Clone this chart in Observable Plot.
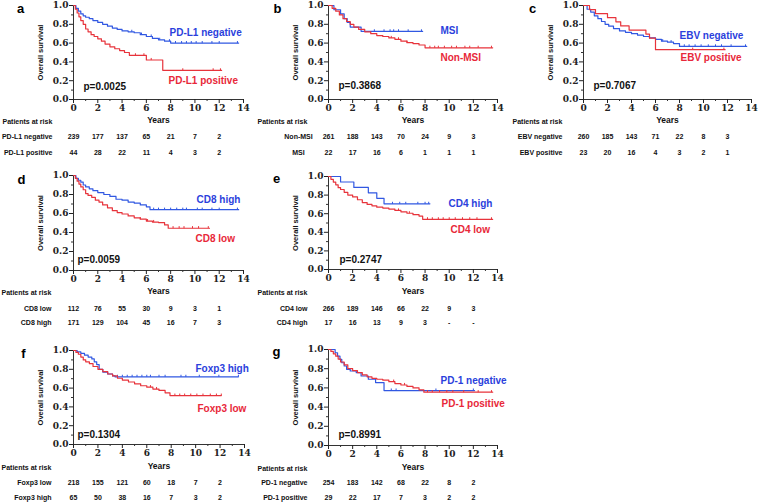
<!DOCTYPE html>
<html><head><meta charset="utf-8">
<script src="https://cdn.jsdelivr.net/npm/d3@7"></script>
<script src="https://cdn.jsdelivr.net/npm/@observablehq/plot@0.6"></script>
<style>
html,body{margin:0;padding:0;background:#fff;}
#fig{position:relative;width:758px;height:502px;overflow:hidden;background:#fff;}
#fig svg{position:absolute;overflow:visible;}
</style></head><body><div id="fig"></div>
<script>
// ---------- shared ticks ----------
const riskTimes = [0, 2, 4, 6, 8, 10, 12];
const xMajorTicks = [0, 2, 4, 6, 8, 10, 12, 14];
const xMinorTicks = [1, 3, 5, 7, 9, 11, 13];
const yMajorTicks = [0, 0.2, 0.4, 0.6, 0.8, 1.0];
const yMinorTicks = [0.1, 0.3, 0.5, 0.7, 0.9];

// ---------- panel a ----------
const aLabels = ["PD-L1 negative", "PD-L1 positive"];
const aP = "p=0.0025";
const aNegT = [0, 0.2, 0.4, 0.6, 0.8, 1.0, 1.3, 1.6, 2.0, 2.4, 2.8, 3.2, 3.6, 4.0, 4.5, 5.0, 5.5, 6.0, 6.5, 7.0, 7.5, 8.0, 13.6];
const aNegS = [1, 0.97, 0.94, 0.91, 0.89, 0.875, 0.86, 0.84, 0.82, 0.80, 0.78, 0.76, 0.745, 0.73, 0.72, 0.71, 0.69, 0.67, 0.65, 0.635, 0.62, 0.60, 0.60];
const aNegC = [4.8, 5.6, 6.4, 7.1, 7.9, 8.4, 8.9, 9.3, 9.7, 10.1, 10.6, 11.4, 12.0, 13.5];
const aPosT = [0, 0.15, 0.3, 0.45, 0.6, 0.8, 1.0, 1.2, 1.45, 1.7, 2.0, 2.3, 2.6, 3.0, 3.4, 3.8, 4.2, 4.6, 6.0, 7.35, 12.2];
const aPosS = [1, 0.96, 0.92, 0.88, 0.84, 0.80, 0.75, 0.72, 0.69, 0.67, 0.645, 0.62, 0.59, 0.56, 0.54, 0.52, 0.50, 0.47, 0.42, 0.31, 0.31];
const aPosC = [5.1, 5.8, 6.4, 9.0, 11.5, 12.1];
const aNegRisk = ["239", "177", "137", "65", "21", "7", "2"];
const aPosRisk = ["44", "28", "22", "11", "4", "3", "2"];

// ---------- panel b ----------
const bLabels = ["Non-MSI", "MSI"];
const bP = "p=0.3868";
const bNonT = [0, 0.3, 0.6, 0.9, 1.2, 1.5, 1.8, 2.1, 2.5, 3.0, 3.5, 4.0, 4.5, 5.0, 5.5, 6.0, 6.5, 7.0, 7.5, 8.0, 13.6];
const bNonS = [1, 0.97, 0.94, 0.90, 0.86, 0.83, 0.80, 0.77, 0.745, 0.72, 0.70, 0.68, 0.67, 0.655, 0.64, 0.62, 0.605, 0.595, 0.58, 0.55, 0.55];
const bNonC = [5.2, 5.8, 6.5, 8.4, 8.8, 9.1, 9.6, 10.2, 10.6, 11.3, 11.7, 12.4, 13.5];
const bMsiT = [0, 0.45, 1.0, 1.3, 1.55, 1.8, 2.7, 7.8];
const bMsiS = [1, 0.955, 0.91, 0.86, 0.82, 0.77, 0.725, 0.725];
const bMsiC = [3.8, 4.6, 5.1, 5.4, 5.8, 6.6, 7.7];
const bNonRisk = ["261", "188", "143", "70", "24", "9", "3"];
const bMsiRisk = ["22", "17", "16", "6", "1", "1", "1"];

// ---------- panel c ----------
const cLabels = ["EBV negative", "EBV positive"];
const cP = "p=0.7067";
const cNegT = [0, 0.3, 0.6, 0.9, 1.2, 1.5, 1.8, 2.1, 2.5, 3.0, 3.5, 4.0, 4.5, 5.0, 5.5, 6.0, 6.5, 7.0, 7.5, 8.0, 13.6];
const cNegS = [1, 0.96, 0.93, 0.89, 0.86, 0.83, 0.80, 0.78, 0.755, 0.73, 0.715, 0.70, 0.685, 0.67, 0.655, 0.64, 0.62, 0.61, 0.595, 0.565, 0.565];
const cNegC = [4.5, 5.5, 6.6, 7.3, 8.4, 8.8, 9.3, 9.8, 10.4, 11.0, 11.5, 12.3, 13.5];
const cPosT = [0, 0.5, 1.0, 2.0, 2.7, 3.1, 3.8, 5.2, 5.5, 6.0, 11.8];
const cPosS = [1, 0.957, 0.913, 0.87, 0.826, 0.783, 0.739, 0.696, 0.652, 0.53, 0.53];
const cPosC = [9.1, 11.7];
const cNegRisk = ["260", "185", "143", "71", "22", "8", "3"];
const cPosRisk = ["23", "20", "16", "4", "3", "2", "1"];

// ---------- panel d ----------
const dLabels = ["CD8 low", "CD8 high"];
const dP = "p=0.0059";
const dHighT = [0, 0.2, 0.4, 0.6, 0.8, 1.0, 1.3, 1.6, 2.0, 2.5, 3.0, 3.5, 4.0, 4.5, 5.0, 5.5, 6.0, 6.3, 13.6];
const dHighS = [1, 0.97, 0.95, 0.93, 0.90, 0.88, 0.86, 0.84, 0.82, 0.80, 0.78, 0.75, 0.74, 0.72, 0.71, 0.69, 0.67, 0.64, 0.64];
const dHighC = [6.6, 7.0, 7.5, 8.0, 8.5, 9.0, 9.3, 10.2, 10.6, 11.4, 12.0, 13.5];
const dLowT = [0, 0.15, 0.3, 0.45, 0.6, 0.8, 1.0, 1.2, 1.5, 1.8, 2.1, 2.4, 2.8, 3.2, 3.6, 4.0, 4.5, 5.0, 5.5, 6.0, 6.5, 7.0, 7.5, 7.8, 11.2];
const dLowS = [1, 0.97, 0.94, 0.91, 0.88, 0.85, 0.81, 0.79, 0.77, 0.74, 0.72, 0.69, 0.66, 0.63, 0.61, 0.595, 0.575, 0.555, 0.54, 0.52, 0.51, 0.505, 0.48, 0.445, 0.445];
const dLowC = [5.5, 6.1, 6.6, 8.2, 8.7, 9.1, 9.8, 10.3, 11.1];
const dLowRisk = ["112", "76", "55", "30", "9", "3", "1"];
const dHighRisk = ["171", "129", "104", "45", "16", "7", "3"];

// ---------- panel e ----------
const eLabels = ["CD4 low", "CD4 high"];
const eP = "p=0.2747";
const eHighT = [0, 1.0, 2.1, 3.3, 4.0, 4.6, 8.4];
const eHighS = [1, 0.941, 0.882, 0.824, 0.765, 0.706, 0.706];
const eHighC = [5.3, 5.9, 6.4, 7.4, 8.0, 8.3];
const eLowT = [0, 0.2, 0.4, 0.6, 0.8, 1.0, 1.3, 1.6, 2.0, 2.4, 2.8, 3.2, 3.6, 4.0, 4.5, 5.0, 5.5, 6.0, 6.5, 7.0, 7.5, 7.8, 13.6];
const eLowS = [1, 0.97, 0.94, 0.91, 0.88, 0.86, 0.83, 0.80, 0.78, 0.75, 0.72, 0.70, 0.685, 0.67, 0.66, 0.65, 0.635, 0.62, 0.605, 0.59, 0.575, 0.54, 0.54];
const eLowC = [5.8, 6.7, 8.2, 8.6, 9.1, 9.5, 10.0, 10.5, 11.1, 11.7, 12.3, 13.5];
const eLowRisk = ["266", "189", "146", "66", "22", "9", "3"];
const eHighRisk = ["17", "16", "13", "9", "3", "-", "-"];

// ---------- panel f ----------
const fLabels = ["Foxp3 low", "Foxp3 high"];
const fP = "p=0.1304";
const fHighT = [0, 0.3, 0.6, 0.9, 1.2, 1.5, 1.7, 1.9, 2.1, 2.4, 2.8, 3.2, 3.4, 13.5];
const fHighS = [1, 0.985, 0.97, 0.95, 0.93, 0.91, 0.88, 0.85, 0.80, 0.77, 0.75, 0.73, 0.72, 0.72];
const fHighC = [3.6, 4.0, 4.4, 4.8, 5.2, 5.6, 6.0, 6.3, 7.0, 7.5, 8.8, 9.2, 10.3, 11.9, 13.5];
const fLowT = [0, 0.2, 0.4, 0.6, 0.8, 1.0, 1.3, 1.6, 2.0, 2.4, 2.8, 3.2, 3.6, 4.0, 4.5, 5.0, 5.5, 6.0, 6.5, 7.0, 7.5, 7.9, 12.1];
const fLowS = [1, 0.98, 0.96, 0.93, 0.90, 0.88, 0.86, 0.83, 0.80, 0.775, 0.75, 0.73, 0.705, 0.685, 0.665, 0.645, 0.625, 0.61, 0.59, 0.575, 0.55, 0.52, 0.52];
const fLowC = [6.3, 6.8, 8.3, 8.7, 9.1, 9.6, 10.1, 10.6, 11.2, 11.7, 12.1];
const fLowRisk = ["218", "155", "121", "60", "18", "7", "2"];
const fHighRisk = ["65", "50", "38", "16", "7", "3", "2"];

// ---------- panel g ----------
const gLabels = ["PD-1 negative", "PD-1 positive"];
const gP = "p=0.8991";
const gNegT = [0, 0.55, 0.75, 0.95, 1.1, 1.3, 1.5, 1.8, 2.3, 2.7, 3.3, 3.9, 4.6, 12.1];
const gNegS = [1, 0.966, 0.931, 0.897, 0.862, 0.828, 0.793, 0.776, 0.759, 0.724, 0.69, 0.655, 0.572, 0.572];
const gNegC = [5.2, 5.6, 8.9, 12.0];
const gPosT = [0, 0.2, 0.4, 0.6, 0.8, 1.0, 1.3, 1.6, 2.0, 2.4, 2.8, 3.2, 3.6, 4.0, 4.5, 5.0, 5.5, 6.0, 6.5, 7.0, 7.5, 7.9, 13.6];
const gPosS = [1, 0.98, 0.955, 0.93, 0.90, 0.87, 0.84, 0.80, 0.78, 0.76, 0.735, 0.715, 0.70, 0.69, 0.68, 0.665, 0.645, 0.63, 0.615, 0.60, 0.58, 0.555, 0.555];
const gPosC = [5.4, 6.3, 8.2, 8.6, 9.2, 9.8, 10.3, 11.2, 12.4, 13.5];
const gNegRisk = ["254", "183", "142", "68", "22", "8", "2"];
const gPosRisk = ["29", "22", "17", "7", "3", "2", "2"];

// ---------- styling / layout ----------
const BLUE = "#3158e2", RED = "#e7333b";
const BLUE_T = "#2b3fdc", RED_T = "#e8283a";
const AX = "#333";
const SANS = "'Liberation Sans', Arial, sans-serif";
const SERIF = "'DejaVu Serif', serif";

const panels = [
  {letter: "a", left: 0, top: 0, w: 250, h: 165, fx0: 73, fx1: 243, fy0: 5, fy1: 99, letterPos: [20, 8],
   curves: [[aNegT, aNegS, aNegC, BLUE], [aPosT, aPosS, aPosC, RED]],
   legend: [[aLabels[0], 169, 32, BLUE_T], [aLabels[1], 168, 80, RED_T]], p: aP, pPos: [83, 86],
   rows: [[aLabels[0], aNegRisk], [aLabels[1], aPosRisk]], rowX: 52, rowAnchor: "end", rowY: [136, 152], yearsY: 120, parX: 2},
  {letter: "b", left: 250, top: 0, w: 255, h: 165, fx0: 328, fx1: 497, fy0: 5, fy1: 99, letterPos: [277, 8],
   curves: [[bMsiT, bMsiS, bMsiC, BLUE], [bNonT, bNonS, bNonC, RED]],
   legend: [[bLabels[1], 440, 30, BLUE_T], [bLabels[0], 440, 57, RED_T]], p: bP, pPos: [338, 85],
   rows: [[bLabels[0], bNonRisk], [bLabels[1], bMsiRisk]], rowX: 298, rowAnchor: "middle", rowY: [136, 152], yearsY: 120, parX: 257},
  {letter: "c", left: 505, top: 0, w: 253, h: 165, fx0: 583, fx1: 751, fy0: 5, fy1: 99, letterPos: [532, 8],
   curves: [[cNegT, cNegS, cNegC, BLUE], [cPosT, cPosS, cPosC, RED]],
   legend: [[cLabels[0], 679, 35, BLUE_T], [cLabels[1], 680, 57, RED_T]], p: cP, pPos: [593, 85],
   rows: [[cLabels[0], cNegRisk], [cLabels[1], cPosRisk]], rowX: 562, rowAnchor: "end", rowY: [136, 152], yearsY: 120, parX: 512},
  {letter: "d", left: 0, top: 165, w: 250, h: 170, fx0: 73, fx1: 243, fy0: 175, fy1: 270, letterPos: [21, 179],
   curves: [[dHighT, dHighS, dHighC, BLUE], [dLowT, dLowS, dLowC, RED]],
   legend: [["CD8 high", 196, 199, BLUE_T], ["CD8 low", 195, 238, RED_T]], p: dP, pPos: [77, 259],
   rows: [[dLabels[0], dLowRisk], [dLabels[1], dHighRisk]], rowX: 51, rowAnchor: "end", rowY: [308, 322], yearsY: 291, parX: 1},
  {letter: "e", left: 250, top: 165, w: 255, h: 170, fx0: 328, fx1: 497, fy0: 176, fy1: 269, letterPos: [276, 178],
   curves: [[eHighT, eHighS, eHighC, BLUE], [eLowT, eLowS, eLowC, RED]],
   legend: [["CD4 high", 448, 203, BLUE_T], ["CD4 low", 450, 229, RED_T]], p: eP, pPos: [339, 259],
   rows: [[eLabels[0], eLowRisk], [eLabels[1], eHighRisk]], rowX: 307, rowAnchor: "end", rowY: [308, 322], yearsY: 291, parX: 257},
  {letter: "f", left: 0, top: 335, w: 250, h: 167, fx0: 73, fx1: 244, fy0: 350, fy1: 444, letterPos: [23, 353],
   curves: [[fHighT, fHighS, fHighC, BLUE], [fLowT, fLowS, fLowC, RED]],
   legend: [["Foxp3 high", 195, 368, BLUE_T], ["Foxp3 low", 197, 408, RED_T]], p: fP, pPos: [77, 434],
   rows: [[fLabels[0], fLowRisk], [fLabels[1], fHighRisk]], rowX: 51, rowAnchor: "end", rowY: [482, 497], yearsY: 466, parX: 1},
  {letter: "g", left: 250, top: 335, w: 255, h: 167, fx0: 328, fx1: 497, fy0: 349, fy1: 445, letterPos: [276, 351],
   curves: [[gNegT, gNegS, gNegC, BLUE], [gPosT, gPosS, gPosC, RED]],
   legend: [[gLabels[0], 440, 380, BLUE_T], [gLabels[1], 441, 403, RED_T]], p: gP, pPos: [338, 434],
   rows: [[gLabels[0], gNegRisk], [gLabels[1], gPosRisk]], rowX: 307, rowAnchor: "end", rowY: [482, 497], yearsY: 467, parX: 257}
];

function steps(t, s) { return t.map((x, i) => ({t: x, s: s[i]})); }
function censorPts(t, s, c) { return c.map(x => ({t: x, s: s[Math.max(0, d3.bisectRight(t, x) - 1)]})); }

const fig = document.getElementById("fig");

for (const p of panels) {
  const mL = p.fx0 - p.left, mR = p.left + p.w - p.fx1, mT = p.fy0 - p.top, mB = p.top + p.h - p.fy1;
  const dxF = v => v - p.fx0, dyF = v => v - p.fy0, dyB = v => v - p.fy1;
  const T = {lineAnchor: "middle", fontWeight: "bold"};
  const marks = [];
  // axes lines
  marks.push(Plot.ruleX([0], {y1: 0, y2: 1, stroke: AX, strokeWidth: 1}));
  marks.push(Plot.ruleY([0], {x1: 0, x2: 14, stroke: AX, strokeWidth: 1}));
  marks.push(Plot.axisY({ticks: yMajorTicks, tickSize: 4, tickPadding: 1, tickFormat: d3.format(".1f"), label: null,
    fontFamily: SERIF, fontWeight: "bold", fontSize: 9, color: "#222"}));
  marks.push(Plot.axisY({ticks: yMinorTicks, tickSize: 2, tickFormat: () => "", label: null, color: AX}));
  marks.push(Plot.axisX({ticks: xMajorTicks, tickSize: 4, tickPadding: 1, tickFormat: d3.format("d"), label: null,
    fontFamily: SERIF, fontWeight: "bold", fontSize: 9, color: "#222"}));
  marks.push(Plot.axisX({ticks: xMinorTicks, tickSize: 2, tickFormat: () => "", label: null, color: AX}));
  // curves
  for (const [t, s, c, color] of p.curves) {
    marks.push(Plot.line(steps(t, s), {x: "t", y: "s", curve: "step-after", stroke: color, strokeWidth: 1.2}));
    marks.push(Plot.link(censorPts(t, s, c), {x1: "t", x2: "t", y1: "s", y2: d => d.s + 0.022, stroke: color, strokeWidth: 1}));
  }
  // texts
  marks.push(Plot.text([p.letter], {...T, text: d => d, frameAnchor: "top-left", dx: dxF(p.letterPos[0]), dy: dyF(p.letterPos[1]),
    fontSize: 13, textAnchor: "middle", fill: "#000"}));
  marks.push(Plot.text(["Overall survival"], {...T, text: d => d, frameAnchor: "left", textAnchor: "middle", dx: -33, rotate: -90,
    fontSize: 7.5, fill: "#111"}));
  for (const [label, x, y, color] of p.legend) {
    marks.push(Plot.text([label], {...T, text: d => d, frameAnchor: "top-left", dx: dxF(x), dy: dyF(y), textAnchor: "start",
      fontSize: 10, fill: color}));
  }
  marks.push(Plot.text([p.p], {...T, text: d => d, frameAnchor: "top-left", dx: dxF(p.pPos[0]), dy: dyF(p.pPos[1]), textAnchor: "start",
    fontSize: 10, fill: "#111"}));
  marks.push(Plot.text(["Years"], {...T, text: d => d, frameAnchor: "bottom", textAnchor: "middle", dy: dyB(p.yearsY), fontSize: 8.5, fill: "#111"}));
  marks.push(Plot.text(["Patients at risk"], {...T, text: d => d, frameAnchor: "bottom-left", dx: dxF(p.parX), dy: dyB(p.yearsY + 1),
    textAnchor: "start", fontSize: 7, fill: "#111"}));
  p.rows.forEach(([label, counts], i) => {
    marks.push(Plot.text([label], {...T, text: d => d, frameAnchor: "bottom-left", dx: dxF(p.rowX), dy: dyB(p.rowY[i]),
      textAnchor: p.rowAnchor, fontSize: 7, fill: "#111"}));
    marks.push(Plot.text(riskTimes.map((t, j) => ({t, n: counts[j]})), {...T, x: "t", text: "n", frameAnchor: "bottom",
      textAnchor: "middle", dy: dyB(p.rowY[i]), fontSize: 7, fill: "#111"}));
  });
  const svg = Plot.plot({
    width: p.w, height: p.h,
    marginLeft: mL, marginRight: mR, marginTop: mT, marginBottom: mB,
    x: {domain: [0, 14]}, y: {domain: [0, 1]},
    style: {fontFamily: SANS, background: "transparent", overflow: "visible"},
    marks
  });
  svg.style.left = p.left + "px";
  svg.style.top = p.top + "px";
  fig.appendChild(svg);
}
</script></body></html>
